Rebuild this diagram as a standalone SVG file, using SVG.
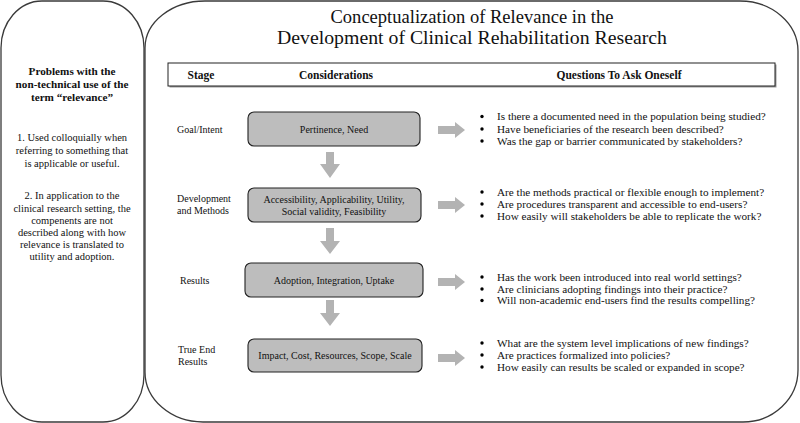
<svg xmlns="http://www.w3.org/2000/svg" width="800" height="423" viewBox="0 0 800 423">
<style>
text{font-family:"Liberation Serif","Times New Roman",serif;fill:#111}
.panel{fill:#fff;stroke:#3a3a3a;stroke-width:1.3}
.title{font-size:19.5px;text-anchor:middle}
.hd{font-size:11.5px;font-weight:bold;text-anchor:middle}
.lb{font-size:11.2px;font-weight:bold;text-anchor:middle}
.lt{font-size:10.5px;text-anchor:middle}
.st{font-size:10px}
.box{fill:#bdbdbd;stroke:#222;stroke-width:1.1}
.bt{font-size:10px;text-anchor:middle}
.q{font-size:11.2px}
.arr{fill:#b3b3b3}
</style>
<rect width="800" height="423" fill="#fff"/>
<g id="left-panel">
<path class="panel" d="M1,48 A41,47 0 0 1 42,1 L103,1 A41,47 0 0 1 144,48 L144,375 A41,47 0 0 1 103,422 L42,422 A41,47 0 0 1 1,375 Z"/>
<text class="lb" x="72" y="75">Problems with the</text>
<text class="lb" x="72" y="88">non-technical use of the</text>
<text class="lb" x="72" y="101">term “relevance”</text>
<text class="lt" x="72" y="141">1. Used colloquially when</text>
<text class="lt" x="72" y="154">referring to something that</text>
<text class="lt" x="72" y="167">is applicable or useful.</text>
<text class="lt" x="72" y="199">2. In application to the</text>
<text class="lt" x="72" y="211.5">clinical research setting, the</text>
<text class="lt" x="72" y="224">compenents are not</text>
<text class="lt" x="72" y="236">described along with how</text>
<text class="lt" x="72" y="248">relevance is translated to</text>
<text class="lt" x="72" y="260">utility and adoption.</text>
</g>
<g id="right-panel">
<path class="panel" d="M145,48 A60,47 0 0 1 205,1 L740,1 A58,50 0 0 1 798,51 L798,370 A55,52 0 0 1 743,422 L203,422 A58,50 0 0 1 145,372 Z"/>
<text class="title" x="472" y="23" textLength="283" lengthAdjust="spacingAndGlyphs">Conceptualization of Relevance in the</text>
<text class="title" x="472" y="43.5" textLength="390" lengthAdjust="spacingAndGlyphs">Development of Clinical Rehabilitation Research</text>
</g>
<g id="header">
<rect x="169.5" y="64.5" width="607" height="23" fill="#9a9a9a"/>
<rect x="168" y="63" width="607" height="23" fill="#fff" stroke="#222" stroke-width="1"/>
<text class="hd" x="201" y="78.5">Stage</text>
<text class="hd" x="336" y="78.5">Considerations</text>
<text class="hd" x="619" y="78.5">Questions To Ask Oneself</text>
</g>
<g id="stage-goal">
<text class="st" x="177" y="133">Goal/Intent</text>
<rect class="box" x="248" y="112" width="172" height="34" rx="6"/>
<text class="bt" x="334" y="133">Pertinence, Need</text>
<g class="q">
<circle cx="482" cy="116.5" r="1.7"/><text x="497" y="120">Is there a documented need in the population being studied?</text>
<circle cx="482" cy="129" r="1.7"/><text x="497" y="132.5">Have beneficiaries of the research been described?</text>
<circle cx="482" cy="141" r="1.7"/><text x="497" y="144.5">Was the gap or barrier communicated by stakeholders?</text>
</g>
</g>
<g id="stage-development">
<text class="st" x="177" y="202">Development</text>
<text class="st" x="177" y="214">and Methods</text>
<rect class="box" x="248" y="188" width="173" height="34" rx="6"/>
<text class="bt" x="334" y="203">Accessibility, Applicability, Utility,</text>
<text class="bt" x="334" y="215">Social validity, Feasibility</text>
<g class="q">
<circle cx="482" cy="192" r="1.7"/><text x="497" y="195.5">Are the methods practical or flexible enough to implement?</text>
<circle cx="482" cy="204" r="1.7"/><text x="497" y="207.5">Are procedures transparent and accessible to end-users?</text>
<circle cx="482" cy="216" r="1.7"/><text x="497" y="219.5">How easily will stakeholders be able to replicate the work?</text>
</g>
</g>
<g id="stage-results">
<text class="st" x="180" y="284">Results</text>
<rect class="box" x="245" y="263" width="178" height="34" rx="6"/>
<text class="bt" x="334" y="284">Adoption, Integration, Uptake</text>
<g class="q">
<circle cx="482" cy="277" r="1.7"/><text x="497" y="280.5">Has the work been introduced into real world settings?</text>
<circle cx="482" cy="289" r="1.7"/><text x="497" y="292.5">Are clinicians adopting findings into their practice?</text>
<circle cx="482" cy="300.5" r="1.7"/><text x="497" y="304">Will non-academic end-users find the results compelling?</text>
</g>
</g>
<g id="stage-true-end">
<text class="st" x="178" y="353">True End</text>
<text class="st" x="178" y="365">Results</text>
<rect class="box" x="248" y="339" width="174" height="33" rx="6"/>
<text class="bt" x="335" y="359">Impact, Cost, Resources, Scope, Scale</text>
<g class="q">
<circle cx="482" cy="343" r="1.7"/><text x="497" y="346.5">What are the system level implications of new findings?</text>
<circle cx="482" cy="355" r="1.7"/><text x="497" y="358.5">Are practices formalized into policies?</text>
<circle cx="482" cy="367" r="1.7"/><text x="497" y="370.5">How easily can results be scaled or expanded in scope?</text>
</g>
</g>
<g id="connectors">
<path class="arr" d="M326,152 h8 v12 h6 l-10,14 l-10,-14 h6 z"/>
<path class="arr" d="M326,228 h8 v13 h6 l-10,13 l-10,-13 h6 z"/>
<path class="arr" d="M326,300 h8 v13 h6 l-10,13 l-10,-13 h6 z"/>
<path class="arr" d="M438,126 h17 v-4 l10,8 l-10,8 v-4 h-17 z"/>
<path class="arr" d="M438,201 h17 v-4 l10,8 l-10,8 v-4 h-17 z"/>
<path class="arr" d="M438,278 h17 v-4 l10,8 l-10,8 v-4 h-17 z"/>
<path class="arr" d="M438,354 h17 v-4 l10,8 l-10,8 v-4 h-17 z"/>
</g>
</svg>
